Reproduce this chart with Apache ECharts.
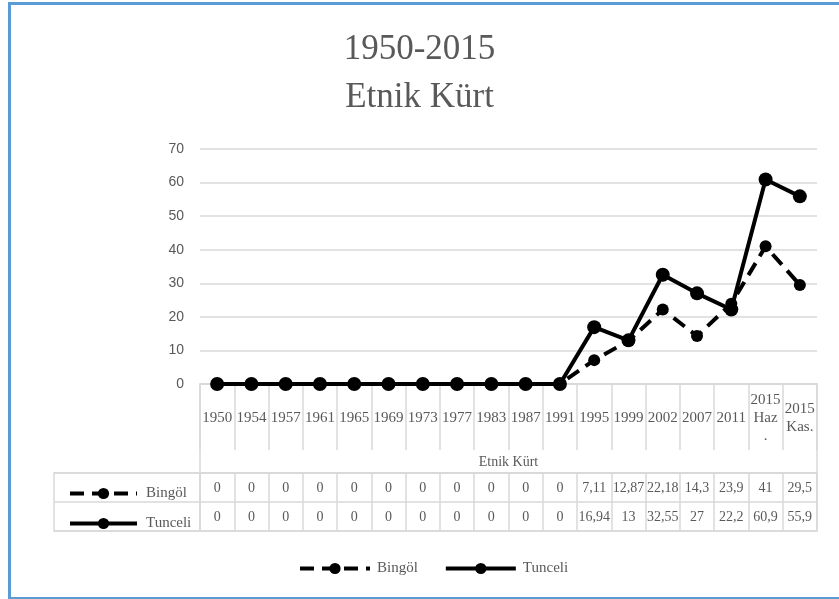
<!DOCTYPE html>
<html lang="tr">
<head>
<meta charset="UTF-8">
<title>1950-2015 Etnik Kürt</title>
<script src="https://cdn.jsdelivr.net/npm/echarts@6/dist/echarts.min.js"></script>
<style>
  body { margin: 0; background: #fff; }
  #main { position: absolute; left: 0; top: 0; width: 839px; height: 599px; }
  #frame { position: absolute; left: 8px; top: 2px; width: 840px; height: 592px;
           border: 3px solid #5b9bd5; pointer-events: none; }
</style>
</head>
<body>
<div id="main"></div>
<div id="frame"></div>
<script>
  var years = ['1950', '1954', '1957', '1961', '1965', '1969', '1973', '1977', '1983', '1987',
    '1991', '1995', '1999', '2002', '2007', '2011', '2015\nHaz\n.', '2015\nKas.'];
  var bingol = [0, 0, 0, 0, 0, 0, 0, 0, 0, 0, 0, 7.11, 12.87, 22.18, 14.3, 23.9, 41, 29.5];
  var tunceli = [0, 0, 0, 0, 0, 0, 0, 0, 0, 0, 0, 16.94, 13, 32.55, 27, 22.2, 60.9, 55.9];
  var rowNames = ['Bingöl', 'Tunceli'];

  var serif = 'Liberation Serif';
  var grey = '#595959';
  var lineGrey = '#d9d9d9';

  // Turkish decimal comma in the data table
  function fmt(v) {
    return String(v).replace('.', ',');
  }

  var myChart = echarts.init(document.getElementById('main'));

  var option = {
    animation: false,
    backgroundColor: '#fff',
    title: {
      text: '1950-2015\nEtnik Kürt',
      left: 'center',
      top: 21,
      textStyle: { fontFamily: serif, fontSize: 35, fontWeight: 'normal', color: grey, lineHeight: 48 }
    },
    legend: [{
      // row headers of the data table
      orient: 'vertical',
      left: 63,
      top: 481,
      itemWidth: 67,
      itemHeight: 14,
      itemGap: 15,
      selectedMode: false,
      data: rowNames,
      lineStyle: { width: 4 },
      textStyle: { fontFamily: serif, fontSize: 15, color: grey, padding: [0, 0, 0, 4] }
    }, {
      left: 293,
      top: 556,
      itemWidth: 70,
      itemHeight: 14,
      itemGap: 26,
      selectedMode: false,
      data: rowNames,
      lineStyle: { width: 4 },
      textStyle: { fontFamily: serif, fontSize: 15, color: grey, padding: [0, 0, 0, 2] }
    }],
    grid: [
      { left: 200, right: 22, top: 149, height: 235 },
      { left: 200, right: 22, top: 473, height: 58, show: true, borderColor: lineGrey, borderWidth: 1.5 },
      { left: 54, width: 146, top: 473, height: 58, show: true, borderColor: lineGrey, borderWidth: 1.5 },
      { left: 200, right: 22, top: 384, height: 89, show: true, borderColor: lineGrey, borderWidth: 1.5 }
    ],
    xAxis: [{
      type: 'category',
      gridIndex: 0,
      data: years,
      axisLine: { lineStyle: { color: lineGrey, width: 1.5 } },
      axisTick: { show: true, interval: 0, length: 66, lineStyle: { color: lineGrey, width: 1.5 } },
      axisLabel: {
        interval: 0, margin: 34, verticalAlign: 'middle', lineHeight: 18,
        fontFamily: serif, fontSize: 15, color: grey
      },
      name: 'Etnik Kürt',
      nameLocation: 'middle',
      nameGap: 71,
      nameTextStyle: { fontFamily: serif, fontSize: 14, color: grey }
    }, {
      type: 'category',
      gridIndex: 1,
      position: 'top',
      data: years,
      axisLine: { show: false },
      axisTick: { show: false },
      splitLine: { show: true, interval: 0, lineStyle: { color: lineGrey, width: 1.5 } },
      axisLabel: {
        inside: true, interval: 0, margin: 15, verticalAlign: 'middle',
        fontFamily: serif, fontSize: 14, color: grey,
        formatter: function (v, i) { return fmt(bingol[i]); }
      }
    }, {
      type: 'category',
      gridIndex: 1,
      position: 'bottom',
      data: years,
      axisLine: { show: false },
      axisTick: { show: false },
      axisLabel: {
        inside: true, interval: 0, margin: 14, verticalAlign: 'middle',
        fontFamily: serif, fontSize: 14, color: grey,
        formatter: function (v, i) { return fmt(tunceli[i]); }
      }
    }, {
      type: 'category', gridIndex: 2, data: [''], show: false
    }, {
      type: 'category', gridIndex: 3, data: [''], show: false
    }],
    yAxis: [{
      type: 'value',
      gridIndex: 0,
      min: 0,
      max: 70,
      interval: 10,
      axisLine: { show: false },
      axisTick: { show: false },
      splitLine: { lineStyle: { color: lineGrey, width: 1.5 } },
      axisLabel: { margin: 16, fontFamily: 'Liberation Sans', fontSize: 14, color: grey }
    }, {
      type: 'category',
      gridIndex: 1,
      inverse: true,
      data: rowNames,
      axisLine: { show: false },
      axisTick: { show: false },
      axisLabel: { show: false },
      splitLine: { show: true, interval: 0, lineStyle: { color: lineGrey, width: 1.5 } }
    }, {
      type: 'category',
      gridIndex: 2,
      inverse: true,
      data: rowNames,
      axisLine: { show: false },
      axisTick: { show: false },
      axisLabel: { show: false },
      splitLine: { show: true, interval: 0, lineStyle: { color: lineGrey, width: 1.5 } }
    }, {
      type: 'value', gridIndex: 3, show: false
    }],
    series: [{
      name: 'Bingöl',
      type: 'line',
      xAxisIndex: 0,
      yAxisIndex: 0,
      symbol: 'circle',
      symbolSize: 12,
      itemStyle: { color: '#000' },
      lineStyle: { color: '#000', width: 4, type: [14, 8] },
      data: bingol
    }, {
      name: 'Tunceli',
      type: 'line',
      xAxisIndex: 0,
      yAxisIndex: 0,
      symbol: 'circle',
      symbolSize: 14,
      itemStyle: { color: '#000' },
      lineStyle: { color: '#000', width: 4 },
      data: tunceli
    }]
  };
  myChart.setOption(option);
</script>
</body>
</html>
